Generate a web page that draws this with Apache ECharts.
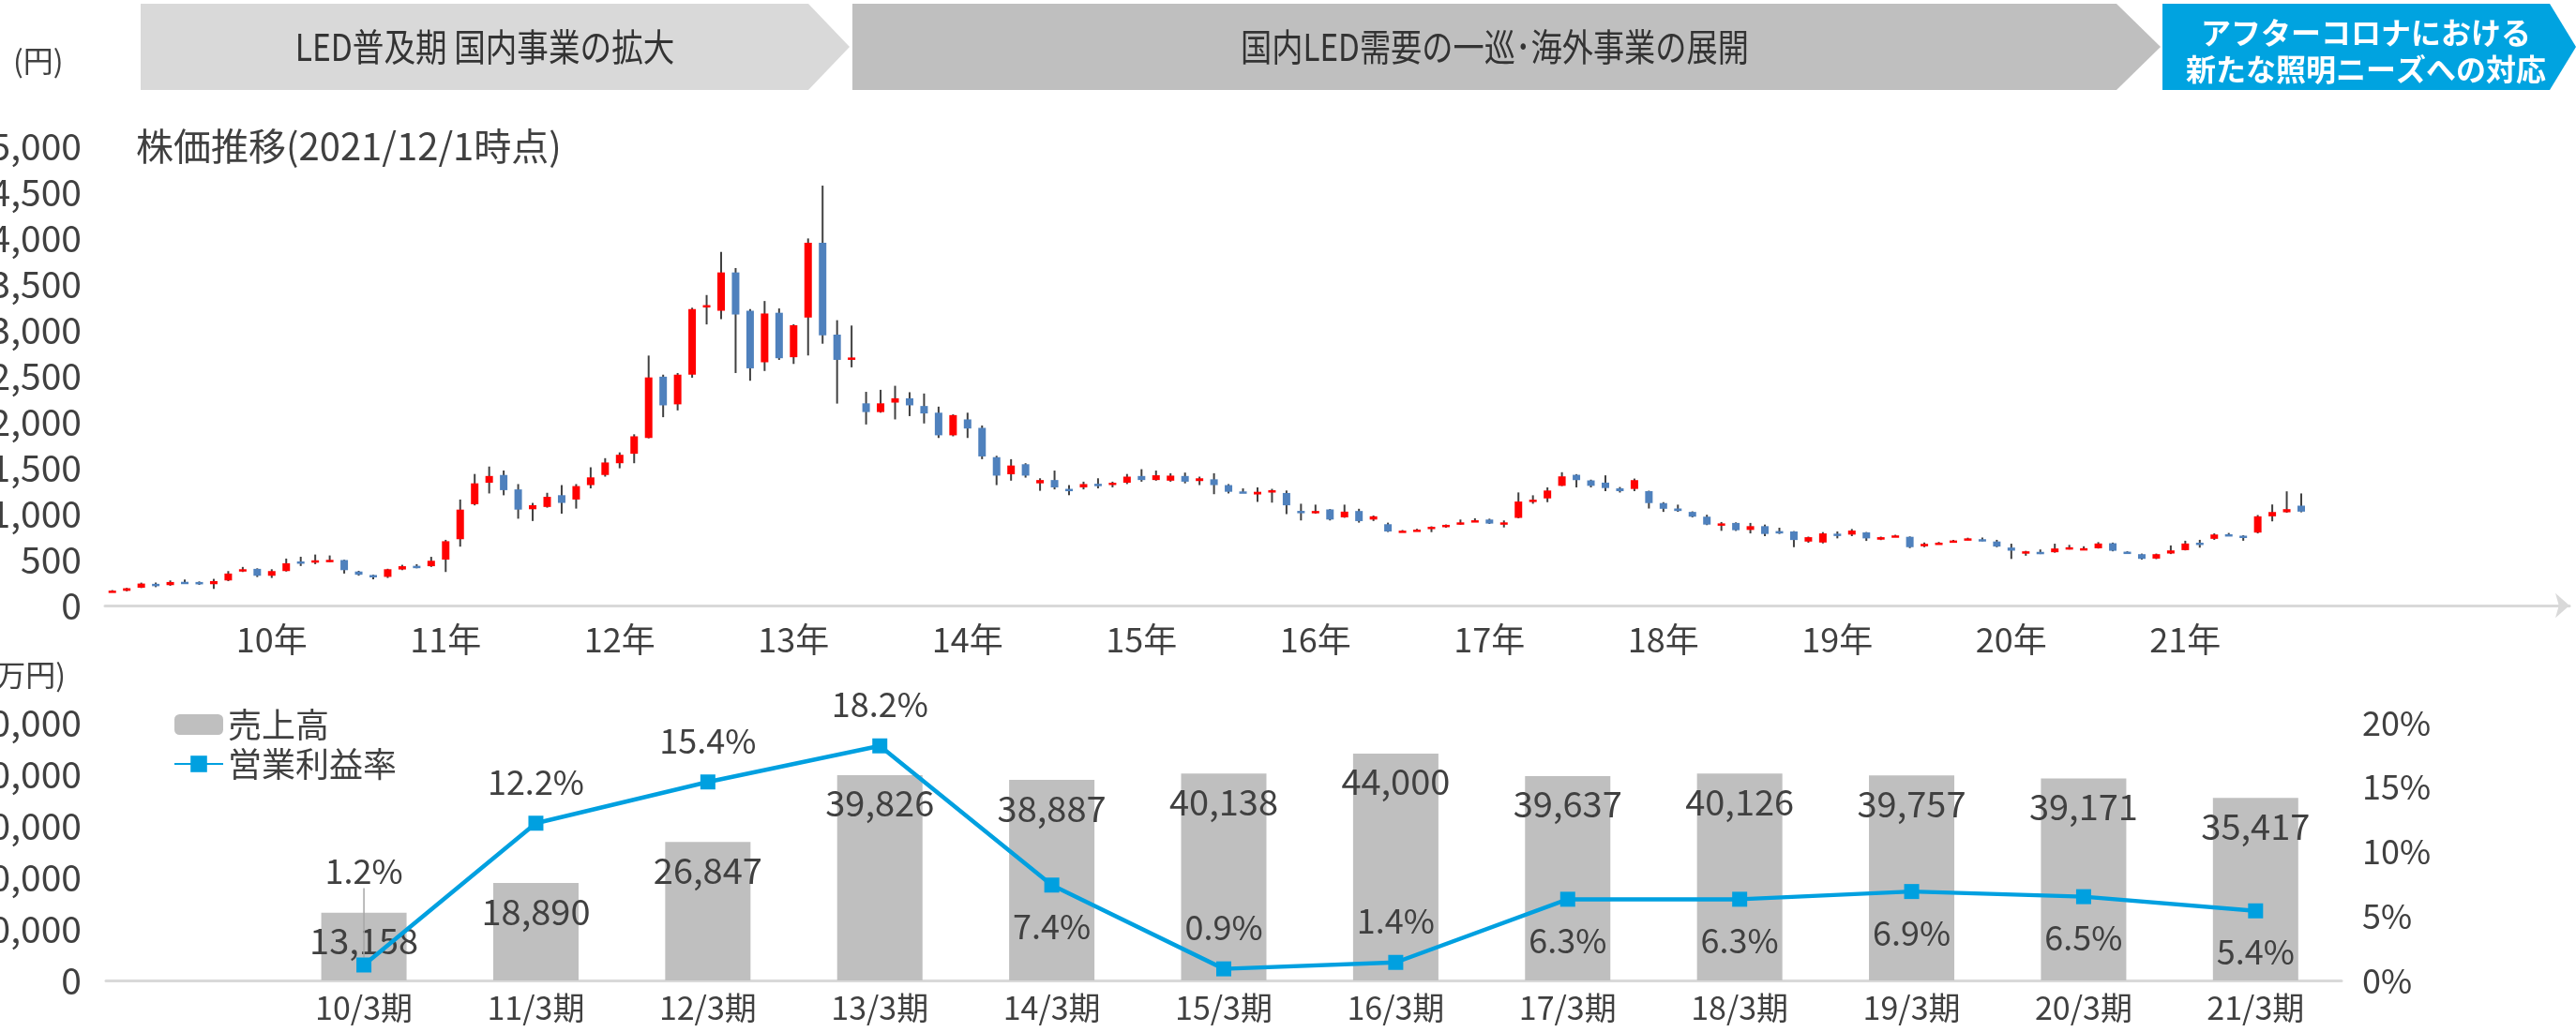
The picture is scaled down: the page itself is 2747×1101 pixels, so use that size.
<!DOCTYPE html>
<html>
<head>
<meta charset="utf-8">
<script src="https://cdn.jsdelivr.net/npm/echarts@6/dist/echarts.min.js"></script>
<style>
  html, body { margin: 0; padding: 0; background: #ffffff; }
  #chart { width: 2747px; height: 1101px; }
</style>
</head>
<body>
<div id="chart"></div>
<script>
// ---- Monthly share price (yen), May 2009 - Dec 2021 ----
const opens = [
  155,160,194,236,222,258,256,232,273,385, 399,324,375,480,484,490,495,370,332,312,
  392,432,428,500,722,1103,1337,1421,1264,1048, 1073,1201,1154,1311,1421,1549,1652,1824,2491,2190,
  2513,3255,3209,3626,3209,2648,3187,2703,3135,3949, 2949,2674,2201,2106,2209,2256,2172,2099,1853,2026,
  1934,1615,1429,1538,1330,1366,1270,1286,1325,1319, 1337,1410,1366,1359,1410,1355,1374,1311,1242,1209,
  1248,1225,1030,1005,1046,960,1029,936,885,808, 818,833,868,885,920,936,898,954,1140,1166,
  1303,1423,1362,1338,1276,1269,1245,1115,1056,1019, 967,886,899,823,864,810,806,696,686,782,
  772,796,717,755,748,645,676,700,718,722, 697,631,584,584,580,628,618,623,678,586,
  559,511,566,603,684,726,776,760,794,971, 1015,1087
];
const closes = [
  162,188,239,228,256,252,232,266,348,395, 324,375,460,473,492,497,385,335,320,395,
  428,425,487,700,1044,1330,1410,1256,1044,1092, 1183,1117,1300,1395,1557,1641,1842,2483,2179,2513,
  3227,3270,3626,3168,2582,3179,2692,3051,3949,2941, 2674,2700,2106,2201,2256,2179,2091,1853,2073,1927,
  1623,1414,1524,1414,1366,1286,1260,1322,1318,1337, 1403,1366,1418,1414,1348,1385,1311,1238,1235,1238,
  1255,1091,1015,1029,936,1022,919,971,806,815, 826,857,878,905,928,892,905,1132,1152,1252,
  1406,1365,1303,1279,1245,1365,1115,1053,1029,967, 881,894,820,864,779,803,713,744,785,776,
  816,731,744,763,635,671,684,708,731,716, 642,597,590,578,621,634,624,675,596,572,
  508,559,600,675,678,773,770,739,971,1018, 1049,1022
];
const lows = [
  150,155,190,200,215,235,225,181,265,365, 310,300,370,430,450,475,348,325,285,300,
  385,405,420,365,641,1090,1220,1200,945,920, 1065,1000,1055,1275,1403,1494,1549,1820,2050,2124,
  2480,3060,3117,2531,2447,2553,2674,2630,2722,2850, 2198,2593,1971,2099,2026,2062,1982,1824,1842,1824,
  1593,1311,1359,1392,1249,1264,1201,1264,1275,1286, 1322,1348,1359,1348,1330,1311,1212,1220,1227,1128,
  1120,995,926,1000,926,955,902,920,800,805, 812,799,847,880,909,888,850,950,1108,1125,
  1300,1286,1286,1245,1230,1245,1056,1019,1020,960, 875,813,812,785,755,779,635,683,676,731,
  755,703,712,750,625,635,670,695,712,700, 635,507,542,560,575,610,615,620,590,565,
  500,505,560,600,630,715,755,705,785,916, 1010,1015
];
const highs = [
  168,192,249,250,273,283,262,290,375,420, 405,395,511,531,555,545,498,378,335,400,
  443,450,530,715,1154,1432,1513,1470,1322,1117, 1227,1311,1322,1505,1604,1667,1864,2721,2513,2531,
  3242,3380,3850,3674,3227,3315,3234,3062,3996,4571, 3106,3048,2326,2348,2392,2322,2308,2165,2081,2099,
  1960,1630,1593,1549,1385,1469,1311,1348,1385,1348, 1432,1484,1469,1440,1447,1403,1440,1322,1275,1286,
  1270,1252,1108,1098,1050,1098,1053,980,902,822, 835,862,882,936,950,945,926,1231,1200,1286,
  1451,1430,1370,1417,1290,1382,1250,1125,1098,1025, 988,909,905,899,881,847,810,750,799,806,
  833,800,750,770,752,686,692,714,738,740, 715,673,595,610,673,660,645,690,685,590,
  565,565,654,705,715,785,790,765,985,1100, 1243,1220
];

// ---- Fiscal year results ----
const periods = ['10/3期','11/3期','12/3期','13/3期','14/3期','15/3期','16/3期','17/3期','18/3期','19/3期','20/3期','21/3期'];
const sales = [13158, 18890, 26847, 39826, 38887, 40138, 44000, 39637, 40126, 39757, 39171, 35417];   // 百万円
const opMargin = [1.2, 12.2, 15.4, 18.2, 7.4, 0.9, 1.4, 6.3, 6.3, 6.9, 6.5, 5.4];                      // %

// ---- Axis tick settings ----
const priceTicks = { min: 0, max: 5000, interval: 500 };
const salesTicks = { min: 0, max: 50000, interval: 10000 };
const marginTicks = { min: 0, max: 20, interval: 5 };

// Month categories for the price axis; trailing blanks stretch the arrowed axis
const firstYear = 2009, firstMonth = 5;
const months = opens.map(function (_, i) {
  const m = firstMonth - 1 + i;
  const y = firstYear + Math.floor(m / 12);
  const mm = (m % 12) + 1;
  return y + '/' + (mm < 10 ? '0' + mm : mm);
});
const axisTail = 18;
const priceCategories = months.concat(new Array(axisTail).fill(''));

// Fiscal categories with one empty slot before the first period
const fiscalCategories = [''].concat(periods);

// Label side for the margin line (style only)
const marginLabelSide = ['top','top','top','top','bottom','top','top','bottom','bottom','bottom','bottom','bottom'];

const FONT = '"Noto Sans CJK JP", "Noto Sans", sans-serif';
const TXT = '#404040';
const UP = '#FF0000', DOWN = '#4F81BD', WICK = '#404040';
const LINE_BLUE = '#00A0E0', BAR_GRAY = '#BFBFBF', AXIS_GRAY = '#D9D9D9';

const candleData = opens.map(function (o, i) {
  return [i, o, closes[i], lows[i], highs[i]];
});

function fmtComma(v) { return Number(v).toLocaleString('en-US'); }

const chart = echarts.init(document.getElementById('chart'), null, { renderer: 'canvas' });

const option = {
  animation: false,
  backgroundColor: '#ffffff',
  textStyle: { fontFamily: FONT, color: TXT },
  grid: [
    { left: 112, top: 156, width: 2628, height: 490, outerBoundsMode: 'none', containLabel: false },
    { left: 113, top: 771, width: 2384, height: 275, outerBoundsMode: 'none', containLabel: false }
  ],
  xAxis: [
    {
      type: 'category', gridIndex: 0, data: priceCategories, boundaryGap: true,
      axisLine: { show: true, lineStyle: { color: AXIS_GRAY, width: 3 }, symbol: ['none', 'arrow'], symbolSize: [20, 15] },
      axisTick: { show: false },
      splitLine: { show: false },
      axisLabel: {
        interval: function (i, v) { return v.slice(5) === '04'; },
        formatter: function (v) { return v.slice(2, 4) + '年'; },
        fontSize: 36, color: TXT, fontFamily: FONT, margin: 18
      }
    },
    {
      type: 'category', gridIndex: 1, data: fiscalCategories, boundaryGap: true,
      axisLine: { show: true, lineStyle: { color: AXIS_GRAY, width: 3 } },
      axisTick: { show: false },
      axisLabel: { interval: 0, fontSize: 34, color: TXT, fontFamily: FONT, margin: 12 }
    }
  ],
  yAxis: [
    {
      type: 'value', gridIndex: 0, min: priceTicks.min, max: priceTicks.max, interval: priceTicks.interval,
      axisLine: { show: false }, axisTick: { show: false }, splitLine: { show: false },
      axisLabel: { formatter: fmtComma, fontSize: 39, color: TXT, fontFamily: FONT, margin: 25 }
    },
    {
      type: 'value', gridIndex: 1, min: salesTicks.min, max: salesTicks.max, interval: salesTicks.interval,
      axisLine: { show: false }, axisTick: { show: false }, splitLine: { show: false },
      axisLabel: { formatter: fmtComma, fontSize: 39, color: TXT, fontFamily: FONT, margin: 26 }
    },
    {
      type: 'value', gridIndex: 1, position: 'right', min: marginTicks.min, max: marginTicks.max, interval: marginTicks.interval,
      axisLine: { show: false }, axisTick: { show: false }, splitLine: { show: false },
      axisLabel: { formatter: '{value}%', fontSize: 36, color: TXT, fontFamily: FONT, margin: 22 }
    }
  ],
  legend: {
    orient: 'vertical', left: 180, top: 750,
    itemWidth: 52, itemHeight: 22, itemGap: 6,
    textStyle: { fontSize: 36, color: TXT, fontFamily: FONT, lineHeight: 36 },
    data: ['売上高', '営業利益率']
  },
  series: [
    {
      name: '株価', type: 'custom', xAxisIndex: 0, yAxisIndex: 0,
      data: candleData,
      encode: { x: 0, y: [1, 2, 3, 4] },
      renderItem: function (params, api) {
        const x = api.value(0);
        const o = api.value(1), c = api.value(2), l = api.value(3), h = api.value(4);
        const pO = api.coord([x, o]), pC = api.coord([x, c]);
        const pL = api.coord([x, l]), pH = api.coord([x, h]);
        const w = 8;
        const top = Math.min(pO[1], pC[1]);
        const bh = Math.max(Math.abs(pO[1] - pC[1]), 2.5);
        return {
          type: 'group',
          children: [
            { type: 'line', shape: { x1: pL[0], y1: pL[1], x2: pH[0], y2: pH[1] },
              style: { stroke: WICK, lineWidth: 2 } },
            { type: 'rect', shape: { x: pO[0] - w / 2, y: top, width: w, height: bh },
              style: { fill: c >= o ? UP : DOWN } }
          ]
        };
      }
    },
    {
      name: '売上高', type: 'bar', xAxisIndex: 1, yAxisIndex: 1,
      barWidth: 91,
      itemStyle: { color: BAR_GRAY },
      data: [null].concat(sales),
      label: {
        show: true, position: 'insideTop', distance: 11,
        formatter: function (p) { return fmtComma(p.value); },
        fontSize: 38, color: TXT, fontFamily: FONT
      }
    },
    {
      name: '営業利益率', type: 'line', xAxisIndex: 1, yAxisIndex: 2,
      symbol: 'rect', symbolSize: 16,
      lineStyle: { color: LINE_BLUE, width: 4.5 },
      itemStyle: { color: LINE_BLUE },
      data: [null].concat(opMargin.map(function (v, i) {
        return {
          value: v,
          label: { position: marginLabelSide[i] },
          // only the first label is lifted away from its point and gets a guide line
          labelLine: { show: i === 0, lineStyle: { color: '#A6A6A6', width: 1.5 } }
        };
      })),
      label: {
        show: true, distance: 18,
        formatter: function (p) { return p.value.toFixed(1) + '%'; },
        fontSize: 36, color: TXT, fontFamily: FONT
      },
      labelLayout: function (p) {
        if (p.dataIndex === 1) { return { dy: -56 }; }
        return {};
      },
      labelLine: { show: false, length2: 0 },
      z: 5
    }
  ],
  graphic: [
    // phase arrows
    { type: 'polygon', shape: { points: [[150, 4], [862, 4], [906, 50], [862, 96], [150, 96]] }, style: { fill: '#D9D9D9' } },
    { type: 'polygon', shape: { points: [[909, 4], [2257, 4], [2304, 50], [2257, 96], [909, 96]] }, style: { fill: '#BFBFBF' } },
    { type: 'polygon', shape: { points: [[2306, 4], [2719, 4], [2747, 50], [2719, 96], [2306, 96]] }, style: { fill: '#00A3E0' } },
    { type: 'text', x: 517, y: 50, scaleX: 0.84, style: { text: 'LED普及期 国内事業の拡大', fill: '#333333', font: '40px ' + FONT, textAlign: 'center', textVerticalAlign: 'middle' } },
    { type: 'text', x: 1594, y: 50, scaleX: 0.83, style: { text: '国内LED需要の一巡･海外事業の展開', fill: '#333333', font: '40px ' + FONT, textAlign: 'center', textVerticalAlign: 'middle' } },
    { type: 'text', x: 2523, y: 54, style: { text: 'アフターコロナにおける\n新たな照明ニーズへの対応', fill: '#ffffff', font: 'bold 32px ' + FONT, lineHeight: 39, textAlign: 'center', textVerticalAlign: 'middle' } },
    // unit and caption texts
    { type: 'text', x: 14, y: 65, style: { text: '(円)', fill: TXT, font: '32px ' + FONT, textVerticalAlign: 'middle' } },
    { type: 'text', x: 145, y: 156, style: { text: '株価推移(2021/12/1時点)', fill: TXT, font: '40px ' + FONT, textVerticalAlign: 'middle' } },
    { type: 'text', x: 70, y: 720, style: { text: '(万円)', fill: TXT, font: '32px ' + FONT, textAlign: 'right', textVerticalAlign: 'middle' } }
  ]
};

chart.setOption(option);
</script>
</body>
</html>
